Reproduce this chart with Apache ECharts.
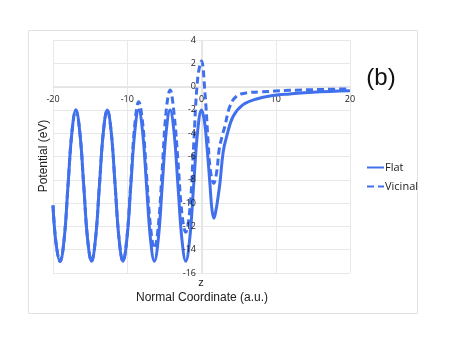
<!DOCTYPE html>
<html>
<head>
<meta charset="utf-8">
<script src="https://cdn.jsdelivr.net/npm/echarts@6/dist/echarts.min.js"></script>
<style>
  html, body { margin: 0; padding: 0; background: #fff; }
  #main { width: 452px; height: 350px; }
</style>
</head>
<body>
<div id="main"></div>
<script>
// potential curves (x = normal coordinate, y = eV)
var flatX = [-20, -19.6, -19.05, -18.5, -17.98, -17.45, -16.92, -16.39, -15.86, -15.34, -14.81,
  -14.28, -13.75, -13.22, -12.69, -12.16, -11.63, -11.1, -10.58, -10.05, -9.52, -8.99, -8.46,
  -7.93, -7.4, -6.87, -6.35, -5.82, -5.29, -4.76, -4.23, -3.7, -3.17, -2.64, -2.12, -1.59,
  -1.06, -0.53, 0, 0.4, 0.77, 1.13, 1.4, 1.67, 1.95, 2.2, 2.48, 2.92, 3.38, 4.27, 5.6, 7.4,
  9.65, 11.9, 15, 20];
var flatY = [-10.2, -13.4, -15, -13.1, -8.5, -3.9, -2, -3.9, -8.5, -13.1, -15,
  -13.1, -8.5, -3.9, -2, -3.9, -8.5, -13.1, -15, -13.1, -8.5, -3.9, -2,
  -3.9, -8.5, -13.1, -15, -13.1, -8.5, -3.9, -2, -3.9, -8.5, -13.1, -15, -13.1,
  -8.5, -3.9, -2, -3.0, -5.4, -8.3, -10.5, -11.3, -10.6, -9.6, -8.3, -5.6, -4.3, -2.55, -1.55, -1.06,
  -0.77, -0.63, -0.48, -0.35];

var vicX = [-20, -19.6, -19.05, -18.5, -17.98, -17.45, -16.92, -16.39, -15.86, -15.34, -14.81,
  -14.28, -13.75, -13.22, -12.69, -12.16, -11.63, -11.1, -10.58, -10.05, -9.52, -8.99, -8.46,
  -7.93, -7.4, -6.87, -6.35, -5.82, -5.29, -4.76, -4.23, -3.7, -3.17, -2.64, -2.12, -1.59,
  -1.06, -0.53, 0, 0.46, 0.9, 1.2, 1.65, 2.05, 2.38, 2.8, 3.15, 3.82, 4.72, 6.07, 7.86, 11.9, 20];
var vicY = [-10.2, -13.4, -15, -13.1, -8.5, -3.9, -2, -3.9, -8.5, -13.1, -15,
  -13.1, -8.5, -3.9, -2, -3.9, -8.5, -13.1, -15, -13.0, -8.2, -3.3, -1.3,
  -3.1, -7.6, -12.0, -13.9, -12.0, -7.1, -2.1, -0.3, -2.3, -6.4, -10.9, -12.5, -10.7,
  -5.1, 0.6, 2.2, -0.5, -4.8, -7.2, -8.3, -7.3, -5.4, -4.2, -3.4, -1.7, -0.83, -0.54, -0.46, -0.32, -0.2];

var seriesNames = ['Flat', 'Vicinal'];
var blue = '#4170EC';

function pairs(xs, ys) {
  return xs.map(function (x, i) { return [x, ys[i]]; });
}

var chart = echarts.init(document.getElementById('main'));
var option = {
  animation: false,
  textStyle: { fontFamily: 'Open Sans, DejaVu Sans, sans-serif', color: '#222' },
  grid: { left: 53, right: 102, top: 40, bottom: 77 },
  // axes sit on the zero lines: x axis at y=0 (47px below top), y axis at x=0 (149px right of left)
  xAxis: [{
    type: 'value', min: -20, max: 20, interval: 10,
    position: 'top', offset: -47,
    axisLine: { onZero: false, lineStyle: { color: '#E4E4E4' } },
    axisTick: { show: false },
    axisLabel: { inside: true, fontSize: 9, color: '#222', margin: 8 },
    splitLine: { lineStyle: { color: '#E8E8E8' } }
  }],
  yAxis: [{
    type: 'value', min: -16, max: 4, interval: 2,
    position: 'left', offset: -149,
    axisLine: { show: true, onZero: false, lineStyle: { color: '#E4E4E4' } },
    axisTick: { show: false },
    axisLabel: { show: false },
    splitLine: { lineStyle: { color: '#E8E8E8' } }
  }, {
    // labels only, drawn above the curves
    type: 'value', min: -16, max: 4, interval: 2, z: 5,
    position: 'left', offset: -149,
    axisLine: { show: false, onZero: false },
    axisTick: { show: false },
    axisLabel: { fontSize: 9, color: '#222', margin: 6 },
    splitLine: { show: false }
  }],
  legend: {
    orient: 'vertical', left: 361, top: 157,
    itemWidth: 17, itemHeight: 10, itemGap: 8,
    itemStyle: { opacity: 0 },
    textStyle: { fontSize: 11, color: '#222', padding: [0, 0, 0, -4] },
    data: seriesNames
  },
  series: [{
    name: seriesNames[0], type: 'line', smooth: 0.4, symbol: 'none',
    lineStyle: { color: blue, width: 3 }, itemStyle: { color: blue },
    data: pairs(flatX, flatY)
  }, {
    name: seriesNames[1], type: 'line', smooth: 0.4, symbol: 'none',
    lineStyle: { color: blue, width: 3, type: [7, 4] }, itemStyle: { color: blue },
    data: pairs(vicX, vicY)
  }],
  graphic: [
    { type: 'rect', shape: { x: 28.5, y: 30.5, width: 389, height: 283 }, silent: true,
      style: { fill: 'none', stroke: '#E2E2E2', lineWidth: 1 } },
    { type: 'text', x: 44, y: 156, rotation: Math.PI / 2,
      style: { text: 'Potential (eV)', fontSize: 12, fill: '#222', align: 'center', verticalAlign: 'middle' } },
    { type: 'text', x: 202, y: 298,
      style: { text: 'Normal Coordinate (a.u.)', fontSize: 12, fill: '#222', align: 'center', verticalAlign: 'middle' } },
    { type: 'text', x: 201, y: 283,
      style: { text: 'z', fontSize: 11, fill: '#222', align: 'center', verticalAlign: 'middle' } },
    { type: 'text', x: 381, y: 78,
      style: { text: '(b)', fontSize: 24, fill: '#111', align: 'center', verticalAlign: 'middle' } }
  ]
};
chart.setOption(option);
</script>
</body>
</html>
